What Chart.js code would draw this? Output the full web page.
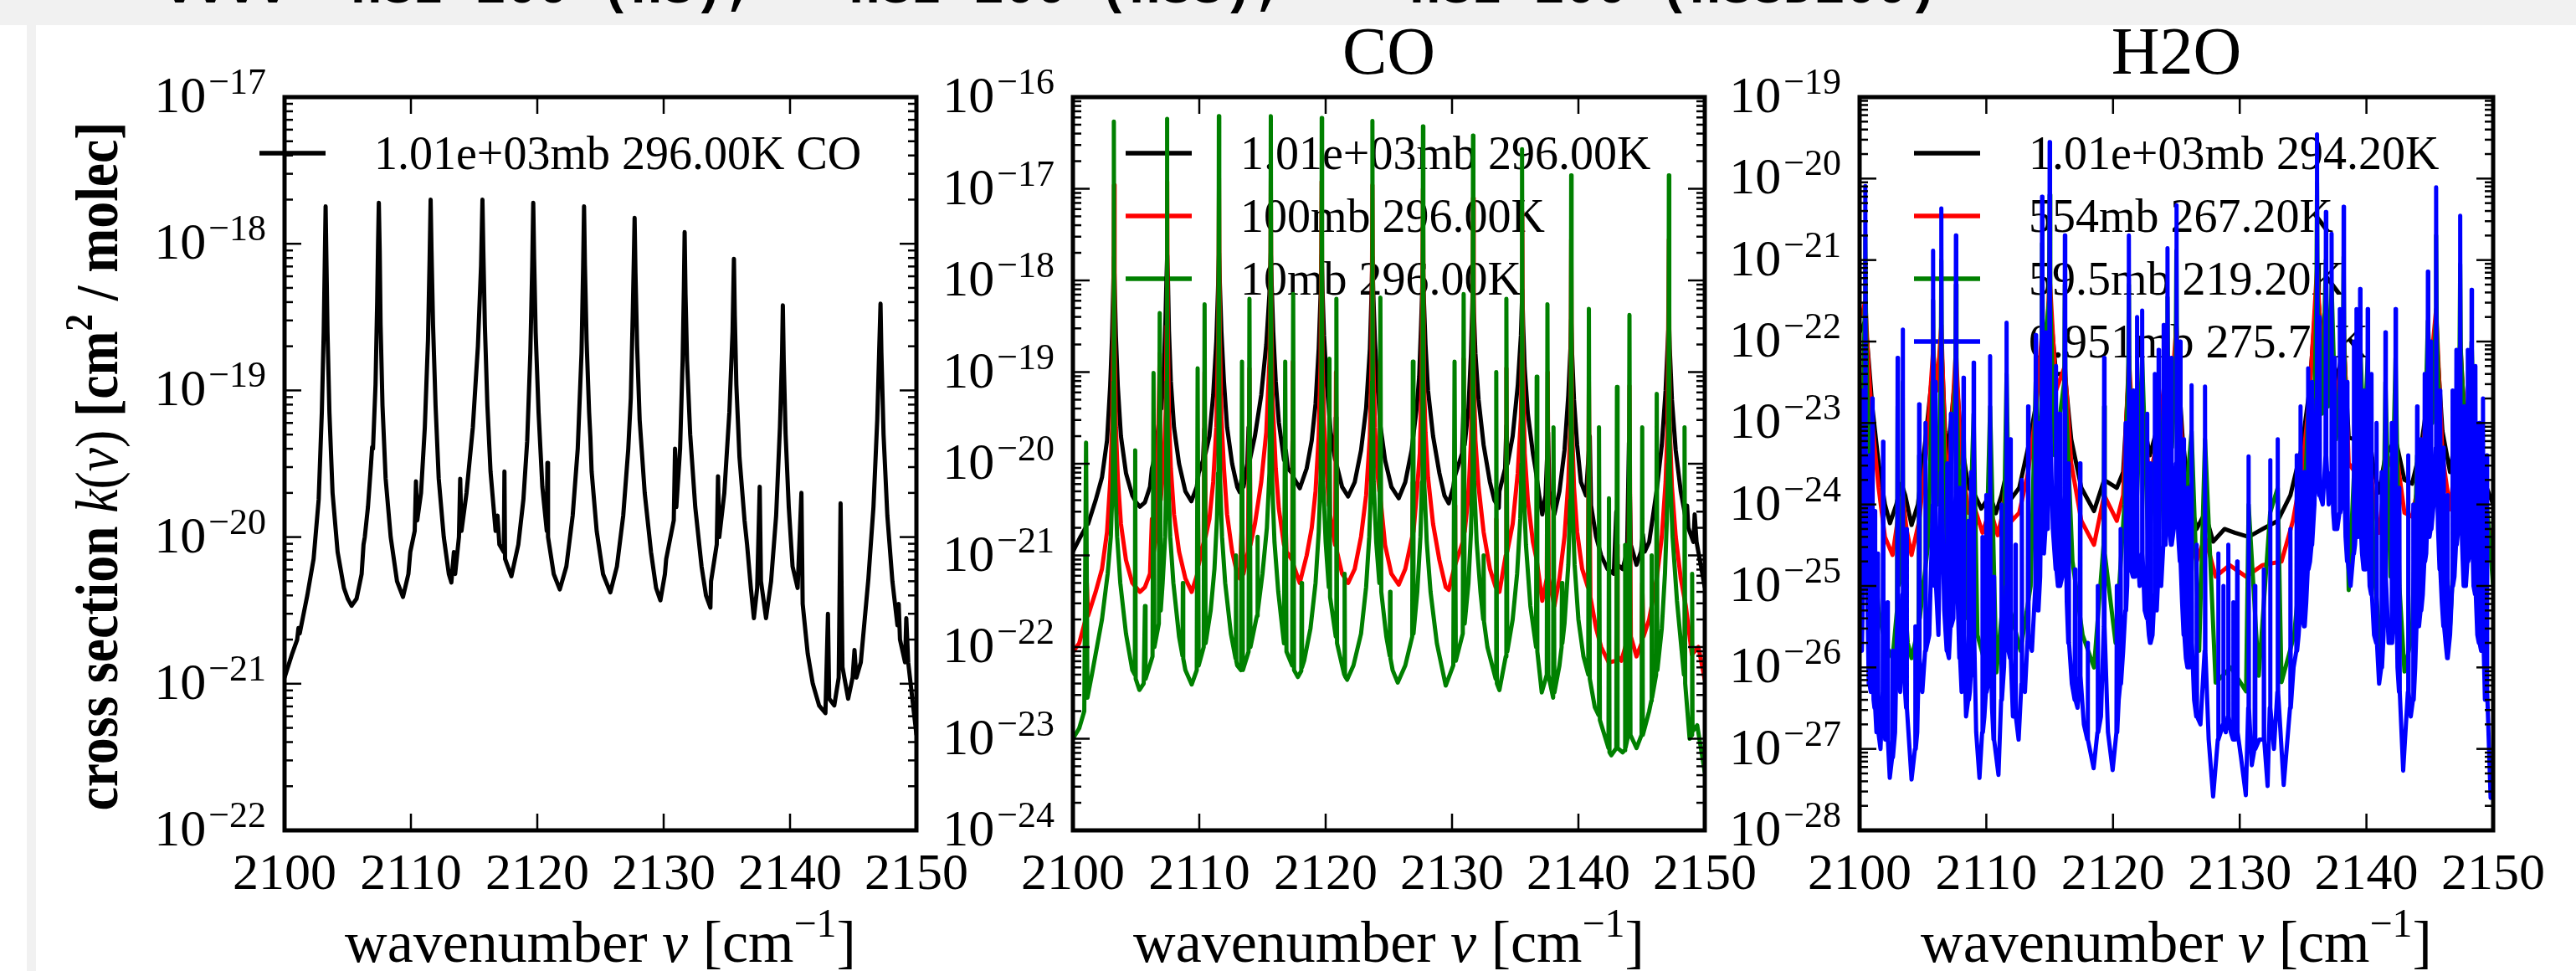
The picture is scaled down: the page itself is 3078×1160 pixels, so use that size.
<!DOCTYPE html>
<html>
<head>
<meta charset="utf-8">
<script src="https://cdn.jsdelivr.net/npm/chart.js@4.4.1/dist/chart.umd.min.js"></script>
<style>
  html, body { margin: 0; padding: 0; background: #fff; }
  body { width: 3078px; height: 1160px; position: relative; overflow: hidden; }
  #topband { position: absolute; left: 0; top: 0; width: 3078px; height: 30px; background: #f1f1f1; overflow: hidden; }
  #topband span { position: absolute; left: 196px; top: -44px; font: bold 62px "Liberation Mono"; line-height: 62px; white-space: pre; color: #000; }
  #leftbar { position: absolute; left: 32px; top: 30px; width: 11px; height: 1130px; background: #f1f1f1; }
  canvas { position: absolute; left: 43px; top: 30px; }
</style>
</head>
<body>
<div id="topband"><span>vvvv  HSI 200 (HS), — HSI 200 (HSS),  — HSI 200 (HSSD200)</span></div>
<div id="leftbar"></div>
<canvas id="p1" width="3035" height="1130"></canvas>
<canvas id="p2" width="3035" height="1130"></canvas>
<canvas id="p3" width="3035" height="1130"></canvas>
<script>
// wavenumber ticks shared by all panels
const xTickValues = [2100, 2110, 2120, 2130, 2140, 2150];
const seriesColors = ["#000000", "#ff0000", "#008000", "#0000ff"];

const coLeftLabels = ["1.01e+03mb 296.00K CO"];
const coLabels = ["1.01e+03mb 296.00K", "100mb 296.00K", "10mb 296.00K"];
const h2oLabels = ["1.01e+03mb 294.20K", "554mb 267.20K", "59.5mb 219.20K", "0.951mb 275.70K"];

// CO, 1013 mb, 296 K  [wavenumber, cross section]
const coAir = [
[2100.0,1.1e-21],[2100.6,1.6e-21],[2101.0,2.0e-21],[2101.1,2.4e-21],[2101.2,2.2e-21],[2101.8,4.0e-21],[2102.3,7.1e-21],[2102.7,1.8e-20],[2102.95,7.1e-20],[2103.1,2.5e-19],[2103.18,7.1e-19],[2103.25,1.8e-18],[2103.32,7.1e-19],[2103.4,2.5e-19],[2103.55,7.1e-20],[2103.8,2.0e-20],[2104.2,7.9e-21],[2104.7,4.5e-21],[2105.0,3.8e-21],[2105.3,3.4e-21],[2105.7,3.8e-21],[2106.1,5.6e-21],[2106.25,8.9e-21],[2106.35,1.0e-20],[2106.6,1.6e-20],[2106.85,3.2e-20],[2106.93,4.1e-20],[2107.0,4.0e-20],[2107.2,1.1e-19],[2107.33,4.0e-19],[2107.4,1.0e-18],[2107.46,1.9e-18],[2107.53,8.9e-19],[2107.6,2.8e-19],[2107.75,7.9e-20],[2108.0,2.5e-20],[2108.4,1.0e-20],[2108.9,5.0e-21],[2109.37,3.9e-21],[2109.8,5.6e-21],[2109.95,7.9e-21],[2110.3,1.1e-20],[2110.4,2.4e-20],[2110.5,1.3e-20],[2110.8,2.0e-20],[2111.1,5.6e-20],[2111.35,2.2e-19],[2111.48,7.9e-19],[2111.56,2.0e-18],[2111.63,8.9e-19],[2111.75,2.8e-19],[2111.95,7.9e-20],[2112.2,2.5e-20],[2112.6,1.0e-20],[2113.0,5.6e-21],[2113.2,4.9e-21],[2113.4,7.9e-21],[2113.5,5.6e-21],[2113.8,1.0e-20],[2113.9,2.5e-20],[2114.0,1.1e-20],[2114.4,2.0e-20],[2114.9,5.6e-20],[2115.3,2.0e-19],[2115.55,7.1e-19],[2115.66,2.0e-18],[2115.73,8.9e-19],[2115.85,2.8e-19],[2116.05,7.9e-20],[2116.3,2.8e-20],[2116.7,1.1e-20],[2116.85,1.4e-20],[2117.0,8.9e-21],[2117.35,7.9e-21],[2117.4,2.8e-20],[2117.45,7.1e-21],[2117.95,5.4e-21],[2118.5,8.9e-21],[2118.9,1.8e-20],[2119.2,4.5e-20],[2119.45,1.8e-19],[2119.6,7.1e-19],[2119.68,1.9e-18],[2119.75,7.9e-19],[2119.87,2.5e-19],[2120.1,7.1e-20],[2120.4,2.2e-20],[2120.75,1.1e-20],[2120.8,3.2e-20],[2120.85,1.0e-20],[2121.3,5.6e-21],[2121.78,4.4e-21],[2122.3,6.3e-21],[2122.8,1.4e-20],[2123.2,4.0e-20],[2123.5,1.8e-19],[2123.63,7.1e-19],[2123.7,1.8e-18],[2123.77,7.1e-19],[2123.9,2.2e-19],[2124.1,7.1e-20],[2124.2,4.8e-20],[2124.3,2.8e-20],[2124.7,1.1e-20],[2125.2,5.6e-21],[2125.78,4.2e-21],[2126.3,6.3e-21],[2126.8,1.4e-20],[2127.2,4.0e-20],[2127.4,8.9e-20],[2127.55,3.2e-19],[2127.64,7.9e-19],[2127.7,1.5e-18],[2127.77,6.3e-19],[2127.9,2.0e-19],[2128.1,6.3e-20],[2128.5,2.0e-20],[2129.0,7.9e-21],[2129.4,4.5e-21],[2129.74,3.7e-21],[2130.1,5.6e-21],[2130.2,7.1e-21],[2130.8,1.3e-20],[2130.9,4.0e-20],[2131.0,1.6e-20],[2131.3,4.0e-20],[2131.5,1.6e-19],[2131.6,5.0e-19],[2131.66,1.2e-18],[2131.73,4.5e-19],[2131.85,1.6e-19],[2132.1,5.0e-20],[2132.5,1.6e-20],[2133.0,6.3e-21],[2133.35,4.0e-21],[2133.7,3.3e-21],[2133.75,5.0e-21],[2134.2,8.9e-21],[2134.3,2.6e-20],[2134.4,1.0e-20],[2134.8,2.0e-20],[2135.2,7.1e-20],[2135.45,2.5e-19],[2135.56,7.9e-19],[2135.63,3.2e-19],[2135.75,1.1e-19],[2136.0,3.5e-20],[2136.4,1.3e-20],[2136.6,8.9e-21],[2136.9,4.5e-21],[2137.14,2.8e-21],[2137.4,4.5e-21],[2137.6,2.2e-20],[2137.7,5.0e-21],[2138.1,2.8e-21],[2138.5,5.0e-21],[2138.9,1.4e-20],[2139.2,5.6e-20],[2139.37,1.8e-19],[2139.43,3.8e-19],[2139.5,1.6e-19],[2139.65,5.0e-20],[2139.9,1.6e-20],[2140.2,6.3e-21],[2140.6,4.5e-21],[2140.9,2.0e-20],[2141.0,3.5e-21],[2141.4,1.6e-21],[2141.8,1.0e-21],[2142.3,7.1e-22],[2142.8,6.3e-22],[2143.0,3.0e-21],[2143.1,7.9e-22],[2143.5,7.1e-22],[2143.85,1.1e-21],[2144.0,1.7e-20],[2144.15,1.3e-21],[2144.6,7.9e-22],[2144.95,1.1e-21],[2145.1,1.7e-21],[2145.25,1.1e-21],[2145.6,1.4e-21],[2146.2,5.2e-21],[2146.6,1.6e-20],[2146.9,6.3e-20],[2147.05,1.8e-19],[2147.16,3.9e-19],[2147.23,1.8e-19],[2147.4,5.0e-20],[2147.7,1.4e-20],[2148.1,5.0e-21],[2148.5,2.5e-21],[2148.6,3.5e-21],[2148.7,2.0e-21],[2149.1,1.4e-21],[2149.2,2.8e-21],[2149.35,1.4e-21],[2150.0,4.5e-22]
];

// CO, 100 mb, 296 K
const co100 = [
[2100.0,8.9e-23],[2100.5,1.1e-22],[2101.0,2.0e-22],[2101.1,5.0e-22],[2101.2,2.2e-22],[2101.8,4.0e-22],[2102.3,7.1e-22],[2102.7,1.8e-21],[2102.95,6.3e-21],[2103.1,2.5e-20],[2103.2,2.5e-19],[2103.25,1.1e-17],[2103.3,2.5e-19],[2103.4,2.5e-20],[2103.55,7.1e-21],[2103.8,2.2e-21],[2104.2,8.9e-22],[2104.7,5.0e-22],[2105.3,4.0e-22],[2105.7,4.5e-22],[2106.1,6.3e-22],[2106.25,2.5e-21],[2106.35,1.0e-21],[2106.6,1.6e-21],[2106.87,1.6e-19],[2106.95,4.0e-21],[2107.2,1.1e-20],[2107.35,4.0e-20],[2107.42,3.2e-19],[2107.46,1.2e-17],[2107.5,3.2e-19],[2107.6,3.2e-20],[2107.75,8.9e-21],[2108.0,2.8e-21],[2108.4,1.1e-21],[2108.9,5.6e-22],[2109.4,4.0e-22],[2109.85,6.3e-22],[2109.9,2.5e-21],[2109.95,7.9e-22],[2110.35,1.4e-21],[2110.42,1.0e-19],[2110.5,1.6e-21],[2110.8,2.5e-21],[2111.1,6.3e-21],[2111.35,2.5e-20],[2111.5,2.5e-19],[2111.56,1.3e-17],[2111.62,2.5e-19],[2111.75,3.2e-20],[2111.95,8.9e-21],[2112.2,2.8e-21],[2112.6,1.1e-21],[2113.0,6.3e-22],[2113.2,5.6e-22],[2113.38,2.5e-21],[2113.5,6.3e-22],[2113.85,1.1e-21],[2113.97,1.1e-19],[2114.05,1.3e-21],[2114.4,2.2e-21],[2114.9,6.3e-21],[2115.3,2.2e-20],[2115.55,1.3e-19],[2115.62,5.0e-19],[2115.66,1.3e-17],[2115.7,4.0e-19],[2115.8,5.0e-20],[2116.05,8.9e-21],[2116.3,3.2e-21],[2116.7,1.3e-21],[2116.8,3.2e-21],[2116.9,1.1e-21],[2117.35,8.9e-22],[2117.4,1.3e-19],[2117.45,7.9e-22],[2117.95,5.0e-22],[2118.5,1.0e-21],[2118.9,2.0e-21],[2119.2,5.0e-21],[2119.45,2.0e-20],[2119.6,1.3e-19],[2119.68,1.2e-17],[2119.75,1.3e-19],[2119.87,2.8e-20],[2120.1,7.9e-21],[2120.25,3.5e-21],[2120.3,1.1e-20],[2120.35,2.8e-21],[2120.75,1.3e-21],[2120.82,1.0e-19],[2120.9,1.1e-21],[2121.3,6.3e-22],[2121.78,5.0e-22],[2122.3,7.1e-22],[2122.8,1.6e-21],[2123.2,4.5e-21],[2123.5,2.0e-20],[2123.63,1.3e-19],[2123.7,1.1e-17],[2123.77,1.3e-19],[2123.9,2.5e-20],[2124.1,7.9e-21],[2124.25,5.0e-21],[2124.3,1.3e-19],[2124.35,4.0e-21],[2124.7,1.3e-21],[2125.2,6.3e-22],[2125.78,4.8e-22],[2126.3,7.1e-22],[2126.85,1.6e-21],[2126.9,6.3e-21],[2126.95,1.8e-21],[2127.2,4.5e-21],[2127.45,1.3e-20],[2127.6,7.9e-20],[2127.7,1.0e-17],[2127.78,7.9e-20],[2127.9,2.2e-20],[2128.1,7.1e-21],[2128.5,2.2e-21],[2129.0,8.9e-22],[2129.5,4.5e-22],[2129.74,4.2e-22],[2130.15,7.1e-22],[2130.2,3.5e-21],[2130.25,7.9e-22],[2130.85,1.4e-21],[2130.92,1.4e-19],[2131.0,1.8e-21],[2131.3,4.5e-21],[2131.5,1.8e-20],[2131.6,1.0e-19],[2131.66,7.9e-18],[2131.72,1.0e-19],[2131.85,1.8e-20],[2132.1,5.6e-21],[2132.5,1.8e-21],[2133.0,7.1e-22],[2133.45,4.5e-22],[2133.5,2.5e-21],[2133.55,4.5e-22],[2133.75,4.0e-22],[2134.25,1.0e-21],[2134.3,1.1e-19],[2134.37,1.1e-21],[2134.8,2.2e-21],[2135.2,7.9e-21],[2135.45,3.2e-20],[2135.52,1.6e-19],[2135.56,5.6e-18],[2135.6,1.6e-19],[2135.75,1.3e-20],[2136.0,4.0e-21],[2136.4,1.4e-21],[2136.7,8.9e-22],[2137.14,3.2e-22],[2137.5,5.6e-22],[2137.57,1.0e-19],[2137.65,5.6e-22],[2138.1,2.8e-22],[2138.5,5.6e-22],[2138.9,1.6e-21],[2139.2,6.3e-21],[2139.37,2.8e-20],[2139.43,2.8e-18],[2139.5,2.5e-20],[2139.65,5.6e-21],[2139.9,1.8e-21],[2140.3,7.1e-22],[2140.75,4.5e-22],[2140.83,7.9e-20],[2140.95,3.5e-22],[2141.4,1.6e-22],[2141.8,1.0e-22],[2142.4,6.8e-23],[2143.0,7.1e-23],[2143.05,1.3e-21],[2143.1,7.9e-23],[2143.4,7.1e-23],[2143.95,1.3e-22],[2144.04,7.1e-20],[2144.15,1.3e-22],[2144.6,7.9e-23],[2145.0,1.1e-22],[2145.05,5.0e-22],[2145.15,1.3e-22],[2145.6,2.0e-22],[2146.2,5.6e-22],[2146.6,1.6e-21],[2146.9,6.3e-21],[2147.05,2.5e-20],[2147.16,2.8e-18],[2147.23,2.5e-20],[2147.4,5.6e-21],[2147.7,1.6e-21],[2148.1,5.6e-22],[2148.5,2.8e-22],[2148.98,8.3e-23],[2149.5,1.0e-22],[2150.0,4.4e-23]
];

// CO, 10 mb, 296 K
const co10 = [
[2100.0,1.0e-23],[2100.5,1.3e-23],[2100.9,2.0e-23],[2101.04,1.7e-20],[2101.15,2.8e-23],[2101.5,5.0e-23],[2101.9,1.0e-22],[2102.3,2.0e-22],[2102.75,6.3e-22],[2103.0,1.6e-21],[2103.15,6.3e-21],[2103.21,7.9e-20],[2103.24,5.4e-17],[2103.27,7.9e-20],[2103.35,6.3e-21],[2103.5,1.6e-21],[2103.75,5.0e-22],[2104.2,1.4e-22],[2104.7,5.6e-23],[2104.9,5.0e-23],[2104.93,1.4e-20],[2104.97,4.5e-23],[2105.26,3.4e-23],[2105.6,4.0e-23],[2105.7,2.8e-22],[2105.75,4.5e-23],[2106.3,7.9e-23],[2106.38,9.8e-20],[2106.45,1.0e-22],[2106.8,1.8e-22],[2106.87,4.4e-19],[2106.95,2.5e-22],[2107.1,5.0e-22],[2107.3,1.6e-21],[2107.37,6.3e-21],[2107.42,7.9e-20],[2107.44,5.8e-17],[2107.47,7.9e-20],[2107.55,6.3e-21],[2107.7,1.6e-21],[2107.95,5.0e-22],[2108.4,1.3e-22],[2108.67,8.0e-23],[2108.7,5.0e-22],[2108.73,7.5e-23],[2108.9,5.6e-23],[2109.4,3.9e-23],[2109.8,5.6e-23],[2109.87,1.1e-19],[2109.95,6.3e-23],[2110.35,1.0e-22],[2110.42,5.5e-19],[2110.5,1.1e-22],[2110.9,2.5e-22],[2111.2,7.1e-22],[2111.4,2.5e-21],[2111.48,7.9e-21],[2111.52,7.9e-20],[2111.55,6.2e-17],[2111.58,7.9e-20],[2111.65,6.3e-21],[2111.8,1.6e-21],[2112.05,5.0e-22],[2112.5,1.4e-22],[2112.87,7.5e-23],[2112.9,1.0e-21],[2112.93,7.0e-23],[2113.0,6.3e-23],[2113.3,5.6e-23],[2113.38,1.3e-19],[2113.45,5.6e-23],[2113.9,8.9e-23],[2113.97,6.3e-19],[2114.05,1.0e-22],[2114.5,2.0e-22],[2114.57,2.2e-22],[2114.6,1.6e-21],[2114.63,2.4e-22],[2115.0,6.3e-22],[2115.35,2.0e-21],[2115.55,7.9e-21],[2115.62,7.9e-20],[2115.66,6.2e-17],[2115.7,7.9e-20],[2115.77,6.3e-21],[2115.95,1.4e-21],[2116.25,4.0e-22],[2116.7,1.1e-22],[2116.8,1.3e-19],[2116.9,8.9e-23],[2117.35,6.3e-23],[2117.43,7.1e-19],[2117.5,5.6e-23],[2117.8,4.7e-23],[2118.07,5.5e-23],[2118.1,5.0e-22],[2118.13,6.0e-23],[2118.3,7.1e-23],[2118.8,1.6e-22],[2119.2,5.0e-22],[2119.45,1.8e-21],[2119.6,7.1e-21],[2119.66,7.9e-20],[2119.69,5.9e-17],[2119.72,7.9e-20],[2119.8,6.3e-21],[2120.0,1.4e-21],[2120.25,4.5e-22],[2120.3,1.4e-19],[2120.35,3.5e-22],[2120.8,1.3e-22],[2120.85,6.3e-19],[2120.9,1.1e-22],[2121.3,6.3e-23],[2121.47,5.0e-23],[2121.5,6.3e-22],[2121.53,4.8e-23],[2121.7,4.4e-23],[2122.2,6.3e-23],[2122.8,1.4e-22],[2123.2,4.5e-22],[2123.45,1.6e-21],[2123.6,6.3e-21],[2123.67,7.9e-20],[2123.7,5.5e-17],[2123.73,7.9e-20],[2123.8,6.3e-21],[2124.0,1.4e-21],[2124.25,5.0e-22],[2124.33,6.5e-19],[2124.4,4.0e-22],[2124.8,1.3e-22],[2125.07,8.0e-23],[2125.1,4.0e-22],[2125.13,7.5e-23],[2125.3,5.6e-23],[2125.7,4.1e-23],[2126.3,6.3e-23],[2126.85,1.3e-22],[2126.9,1.3e-19],[2126.95,1.4e-22],[2127.25,4.0e-22],[2127.5,1.6e-21],[2127.62,6.3e-21],[2127.67,7.9e-20],[2127.7,4.8e-17],[2127.73,7.9e-20],[2127.8,6.3e-21],[2128.0,1.4e-21],[2128.3,4.0e-22],[2128.8,1.1e-22],[2129.5,3.8e-23],[2130.1,6.3e-23],[2130.2,1.3e-19],[2130.3,7.1e-23],[2130.85,1.4e-22],[2130.92,7.1e-19],[2131.0,1.8e-22],[2131.3,5.0e-22],[2131.5,1.8e-21],[2131.6,7.1e-21],[2131.63,7.9e-20],[2131.66,3.8e-17],[2131.69,7.9e-20],[2131.75,6.3e-21],[2131.95,1.4e-21],[2132.25,4.0e-22],[2132.47,2.0e-22],[2132.5,1.0e-21],[2132.53,1.9e-22],[2132.8,1.0e-22],[2133.45,4.5e-23],[2133.5,1.0e-19],[2133.55,4.0e-23],[2133.75,3.4e-23],[2134.25,7.9e-23],[2134.3,6.3e-19],[2134.37,8.9e-23],[2134.8,2.0e-22],[2135.15,6.3e-22],[2135.4,2.5e-21],[2135.5,1.0e-20],[2135.53,6.3e-20],[2135.55,2.7e-17],[2135.58,6.3e-20],[2135.65,6.3e-21],[2135.85,1.3e-21],[2136.2,2.8e-22],[2136.65,1.0e-22],[2136.7,8.9e-20],[2136.75,8.9e-23],[2137.1,3.2e-23],[2137.5,5.0e-23],[2137.55,5.5e-19],[2137.62,5.0e-23],[2138.0,2.8e-23],[2138.03,2.5e-20],[2138.1,3.2e-23],[2138.5,6.3e-23],[2138.67,1.0e-22],[2138.7,5.0e-22],[2138.73,1.1e-22],[2138.9,1.8e-22],[2139.2,7.9e-22],[2139.35,4.0e-21],[2139.4,4.0e-20],[2139.43,1.4e-17],[2139.46,4.0e-20],[2139.52,4.0e-21],[2139.7,7.9e-22],[2140.0,2.0e-22],[2140.4,7.9e-23],[2140.78,5.0e-23],[2140.83,4.9e-19],[2140.9,4.5e-23],[2141.3,2.2e-23],[2141.6,1.8e-23],[2141.63,2.5e-20],[2141.7,1.6e-23],[2142.38,7.9e-24],[2142.42,4.2e-21],[2142.46,7.1e-24],[2142.6,6.6e-24],[2143.0,7.9e-24],[2143.05,6.9e-20],[2143.1,7.9e-24],[2143.5,7.1e-24],[2143.67,7.5e-24],[2143.7,1.3e-21],[2143.73,8.0e-24],[2143.95,1.1e-23],[2144.04,4.2e-19],[2144.12,1.1e-23],[2144.6,7.9e-24],[2145.0,1.1e-23],[2145.05,2.5e-20],[2145.1,1.1e-23],[2145.6,2.0e-23],[2145.77,2.6e-23],[2145.8,1.0e-21],[2145.83,2.8e-23],[2146.15,5.0e-23],[2146.2,5.8e-20],[2146.25,5.6e-23],[2146.6,1.6e-22],[2146.85,6.3e-22],[2147.0,2.5e-21],[2147.1,1.0e-20],[2147.13,4.0e-20],[2147.16,1.4e-17],[2147.19,4.0e-20],[2147.25,7.9e-21],[2147.45,1.6e-21],[2147.8,3.2e-22],[2148.35,5.0e-23],[2148.4,2.5e-20],[2148.45,4.0e-23],[2148.8,1.0e-23],[2148.97,1.1e-23],[2149.0,6.3e-22],[2149.03,1.2e-23],[2149.4,1.4e-23],[2150.0,4.3e-24]
];

// H2O, 1013 mb, 294.2 K
const h2o1013 = [
[2100.0,1.3e-22],[2100.3,1.6e-22],[2100.45,1.8e-22],[2100.7,6.3e-23],[2101.0,1.6e-23],[2101.5,3.2e-24],[2102.0,1.0e-24],[2102.4,5.9e-25],[2102.9,1.0e-24],[2103.3,1.8e-24],[2103.6,1.3e-24],[2104.1,5.6e-25],[2104.6,1.0e-24],[2105.2,6.3e-24],[2105.6,2.5e-23],[2105.8,5.0e-23],[2106.1,3.2e-23],[2106.45,1.0e-22],[2106.75,7.9e-24],[2106.9,3.7e-24],[2107.2,1.0e-23],[2107.6,4.5e-23],[2108.0,6.3e-24],[2108.6,1.6e-24],[2109.0,1.4e-24],[2109.6,8.9e-25],[2110.3,1.3e-24],[2110.75,7.8e-25],[2111.2,1.3e-24],[2111.6,2.5e-24],[2112.0,1.2e-24],[2112.6,1.6e-24],[2113.3,5.0e-24],[2113.9,1.6e-23],[2114.4,1.0e-22],[2114.7,1.0e-22],[2115.0,3.2e-22],[2115.5,4.0e-23],[2116.2,4.0e-23],[2116.7,6.3e-24],[2117.5,1.6e-24],[2118.5,8.3e-25],[2119.3,2.0e-24],[2120.3,1.6e-24],[2120.8,2.5e-24],[2121.25,4.0e-23],[2121.7,6.3e-24],[2122.3,1.3e-23],[2122.9,4.0e-24],[2123.6,1.0e-23],[2124.3,4.0e-23],[2124.6,2.5e-23],[2125.0,1.0e-22],[2125.5,6.3e-24],[2126.0,1.3e-24],[2126.6,5.0e-25],[2127.26,7.9e-25],[2127.9,3.5e-25],[2128.8,5.0e-25],[2129.6,4.5e-25],[2130.7,4.0e-25],[2131.8,5.0e-25],[2133.0,6.3e-25],[2134.0,1.3e-24],[2134.9,5.0e-24],[2135.5,2.5e-23],[2136.1,5.0e-22],[2136.5,1.0e-22],[2136.8,1.3e-22],[2137.0,7.9e-23],[2137.25,7.9e-23],[2137.7,3.2e-23],[2138.2,1.0e-22],[2138.6,6.6e-24],[2139.1,6.3e-24],[2139.5,1.3e-23],[2140.1,1.0e-23],[2140.6,2.5e-24],[2141.0,1.4e-24],[2141.5,4.0e-24],[2142.3,6.3e-24],[2143.0,2.0e-24],[2143.6,1.8e-24],[2144.3,5.0e-24],[2144.85,2.0e-23],[2145.5,1.3e-22],[2146.0,7.9e-24],[2146.6,2.5e-24],[2147.0,6.3e-24],[2147.4,6.3e-23],[2147.9,7.9e-24],[2148.3,1.0e-23],[2148.9,2.5e-24],[2149.5,1.6e-24],[2150.0,1.0e-24]
];

// H2O, 554 mb, 267.2 K
const h2o554 = [
[2100.0,2.0e-22],[2100.3,2.5e-22],[2100.45,3.2e-22],[2100.7,5.0e-23],[2101.0,1.0e-23],[2101.5,1.6e-24],[2102.0,4.0e-25],[2102.6,2.4e-25],[2103.0,6.3e-25],[2103.4,1.3e-24],[2103.7,5.0e-25],[2104.1,2.4e-25],[2104.7,6.3e-25],[2105.3,5.0e-24],[2105.8,7.9e-23],[2106.1,2.5e-23],[2106.45,1.6e-22],[2106.75,5.0e-24],[2106.9,1.4e-24],[2107.2,6.3e-24],[2107.6,7.9e-23],[2108.0,4.0e-24],[2108.6,7.9e-25],[2109.0,1.0e-24],[2109.7,4.5e-25],[2110.3,8.9e-25],[2110.9,4.2e-25],[2111.3,7.9e-25],[2111.6,2.5e-24],[2112.0,6.3e-25],[2112.6,7.9e-25],[2113.3,2.5e-24],[2113.9,1.3e-23],[2114.4,1.3e-22],[2114.7,6.3e-23],[2115.0,6.3e-22],[2115.5,2.5e-23],[2116.2,5.0e-23],[2116.7,3.2e-24],[2117.5,6.3e-25],[2118.5,3.2e-25],[2119.3,1.3e-24],[2120.3,6.3e-25],[2120.8,1.3e-24],[2121.25,6.3e-23],[2121.7,4.0e-24],[2122.3,1.6e-23],[2122.9,2.0e-24],[2123.6,7.9e-24],[2124.3,6.3e-23],[2124.6,2.0e-23],[2125.0,1.6e-22],[2125.5,3.2e-24],[2126.0,5.0e-25],[2126.6,2.0e-25],[2127.26,4.0e-25],[2128.1,1.3e-25],[2129.2,1.8e-25],[2130.5,1.3e-25],[2131.8,1.8e-25],[2133.3,2.0e-25],[2134.2,6.3e-25],[2134.9,2.5e-24],[2135.5,2.0e-23],[2136.1,7.9e-22],[2136.5,6.3e-23],[2136.8,1.6e-22],[2137.0,5.0e-23],[2137.25,1.0e-22],[2137.7,1.6e-23],[2138.2,1.6e-22],[2138.6,3.2e-24],[2139.1,2.5e-24],[2139.5,1.0e-23],[2140.1,7.9e-24],[2140.6,1.0e-24],[2141.0,4.5e-25],[2141.5,2.5e-24],[2142.3,5.0e-24],[2143.0,7.9e-25],[2143.6,7.1e-25],[2144.3,2.5e-24],[2144.85,2.0e-23],[2145.5,2.5e-22],[2146.0,4.0e-24],[2146.6,8.7e-25],[2147.0,3.2e-24],[2147.4,1.0e-22],[2147.9,4.0e-24],[2148.3,7.9e-24],[2148.9,1.0e-24],[2149.5,6.3e-25],[2150.0,3.2e-25]
];

// H2O, 59.5 mb, 219.2 K
const h2o59 = [
[2100.0,1.0e-24],[2100.3,2.5e-23],[2100.4,2.5e-22],[2100.45,2.0e-21],[2100.5,2.5e-22],[2100.6,2.5e-23],[2101.0,5.0e-25],[2101.5,5.0e-26],[2102.0,2.0e-26],[2102.6,1.3e-26],[2102.95,5.0e-26],[2103.0,1.6e-23],[2103.05,1.0e-25],[2103.35,1.3e-25],[2103.4,3.2e-23],[2103.45,1.3e-25],[2103.8,2.0e-26],[2104.1,1.3e-26],[2104.65,3.2e-26],[2104.7,4.0e-24],[2104.75,4.0e-26],[2105.4,3.2e-25],[2105.75,3.2e-23],[2105.8,3.2e-22],[2105.85,3.2e-23],[2106.15,1.0e-24],[2106.4,3.2e-23],[2106.45,1.0e-21],[2106.5,3.2e-23],[2106.9,2.5e-25],[2107.55,3.2e-23],[2107.6,5.0e-22],[2107.65,2.5e-23],[2108.0,1.6e-25],[2108.2,1.0e-23],[2108.5,4.0e-26],[2109.0,1.3e-23],[2109.3,2.5e-26],[2109.8,1.3e-26],[2110.3,1.6e-23],[2110.8,8.7e-27],[2111.3,6.3e-26],[2111.6,4.0e-23],[2111.9,5.0e-26],[2112.7,1.6e-26],[2113.5,1.0e-25],[2113.9,3.2e-23],[2114.2,1.0e-24],[2114.35,2.5e-23],[2114.4,1.6e-21],[2114.5,5.0e-23],[2114.95,3.2e-22],[2115.0,6.3e-21],[2115.05,3.2e-22],[2115.4,4.0e-24],[2116.15,3.2e-23],[2116.2,5.0e-22],[2116.25,2.5e-23],[2116.8,2.0e-25],[2117.6,2.5e-26],[2118.5,1.0e-26],[2119.25,3.2e-25],[2119.3,1.6e-23],[2119.35,2.5e-25],[2120.2,2.0e-26],[2120.9,1.0e-24],[2121.2,4.0e-23],[2121.25,5.0e-22],[2121.3,3.2e-23],[2121.8,5.0e-25],[2122.3,6.3e-23],[2122.8,2.5e-25],[2123.6,2.0e-23],[2124.0,5.0e-25],[2124.25,3.2e-23],[2124.3,3.5e-22],[2124.35,4.0e-23],[2124.65,5.0e-24],[2124.95,6.3e-23],[2125.0,1.3e-21],[2125.05,5.0e-23],[2125.5,4.0e-25],[2126.2,7.9e-24],[2126.8,1.6e-26],[2127.26,6.3e-24],[2128.1,6.5e-27],[2129.3,1.0e-26],[2130.5,5.1e-27],[2130.7,1.0e-24],[2131.5,7.9e-27],[2132.4,7.9e-25],[2133.0,1.6e-24],[2133.3,6.6e-27],[2134.3,2.5e-26],[2135.0,4.0e-25],[2135.4,1.3e-23],[2135.8,3.2e-24],[2136.05,3.2e-22],[2136.1,8.9e-21],[2136.15,3.2e-22],[2136.5,1.3e-23],[2136.8,1.0e-21],[2137.0,1.6e-23],[2137.25,5.0e-22],[2137.6,6.3e-24],[2138.15,1.3e-22],[2138.2,1.1e-21],[2138.25,1.0e-22],[2138.6,8.9e-26],[2139.5,1.1e-22],[2139.8,5.0e-24],[2140.1,6.3e-23],[2140.6,1.6e-25],[2141.2,1.3e-26],[2141.5,3.2e-23],[2141.9,1.3e-25],[2142.3,6.3e-23],[2142.6,1.0e-25],[2143.0,8.9e-27],[2143.6,2.5e-26],[2144.0,4.0e-24],[2144.4,4.0e-25],[2144.85,1.8e-22],[2145.2,1.0e-23],[2145.45,1.6e-22],[2145.5,2.0e-21],[2145.55,1.6e-22],[2146.0,6.3e-25],[2146.6,3.2e-26],[2147.1,1.0e-24],[2147.35,7.9e-23],[2147.4,8.9e-22],[2147.45,7.9e-23],[2147.9,2.5e-24],[2148.3,1.0e-22],[2148.8,2.5e-25],[2149.5,1.0e-24],[2150.0,1.0e-25]
];

// H2O, 0.951 mb, 275.7 K
const h2o095 = [
[2100.0,1.0e-25],[2100.12,1.6e-26],[2100.15,2.5e-23],[2100.18,1.6e-26],[2100.3,1.6e-25],[2100.42,5.0e-24],[2100.45,8.1e-21],[2100.48,5.0e-24],[2100.6,1.0e-25],[2100.72,6.3e-27],[2100.75,4.0e-24],[2100.78,6.3e-27],[2100.88,5.0e-27],[2100.97,2.0e-26],[2101.0,2.0e-23],[2101.03,2.0e-26],[2101.1,4.0e-27],[2101.17,3.2e-27],[2101.2,8.3e-25],[2101.23,3.2e-27],[2101.33,1.6e-27],[2101.42,1.6e-27],[2101.45,2.5e-25],[2101.48,1.6e-27],[2101.65,1.0e-27],[2101.82,5.0e-27],[2101.85,5.9e-24],[2101.88,5.0e-27],[2102.02,1.3e-27],[2102.17,1.3e-27],[2102.2,6.3e-26],[2102.23,1.3e-27],[2102.38,4.4e-28],[2102.57,7.9e-28],[2102.6,1.6e-26],[2102.63,7.9e-28],[2102.8,1.6e-27],[2102.97,4.0e-26],[2103.0,6.3e-23],[2103.03,4.0e-26],[2103.2,5.0e-27],[2103.37,7.9e-26],[2103.4,1.4e-22],[2103.43,7.9e-26],[2103.55,6.3e-27],[2103.67,3.2e-27],[2103.7,5.0e-25],[2103.73,3.2e-27],[2104.1,4.2e-28],[2104.37,1.0e-27],[2104.4,3.2e-26],[2104.43,1.0e-27],[2104.55,1.6e-27],[2104.67,1.3e-26],[2104.7,1.7e-23],[2104.73,1.3e-26],[2104.95,5.0e-27],[2105.17,1.6e-26],[2105.2,1.0e-23],[2105.23,1.6e-26],[2105.5,2.5e-26],[2105.77,1.0e-24],[2105.8,1.3e-21],[2105.83,1.0e-24],[2105.9,1.0e-25],[2105.97,1.0e-25],[2106.0,3.2e-23],[2106.03,1.0e-25],[2106.22,2.5e-26],[2106.42,2.5e-24],[2106.45,4.3e-21],[2106.48,2.5e-24],[2106.68,5.0e-26],[2106.87,1.6e-26],[2106.9,3.2e-24],[2106.93,1.6e-26],[2107.05,1.3e-26],[2107.17,3.2e-26],[2107.2,1.3e-23],[2107.23,3.2e-26],[2107.4,4.0e-26],[2107.57,1.3e-24],[2107.6,2.0e-21],[2107.63,1.3e-24],[2107.75,6.3e-26],[2107.87,1.3e-26],[2107.9,1.6e-24],[2107.93,1.3e-26],[2108.05,5.0e-27],[2108.17,2.5e-26],[2108.2,3.6e-23],[2108.23,2.5e-26],[2108.4,2.5e-27],[2108.57,4.0e-27],[2108.6,6.3e-25],[2108.63,4.0e-27],[2108.7,5.0e-27],[2108.77,7.9e-27],[2108.8,2.5e-24],[2108.83,7.9e-27],[2108.9,1.0e-26],[2108.97,3.2e-26],[2109.0,5.5e-23],[2109.03,3.2e-26],[2109.2,1.6e-27],[2109.46,4.4e-28],[2109.67,1.6e-27],[2109.7,4.0e-25],[2109.73,1.6e-27],[2109.85,2.5e-27],[2109.97,5.0e-27],[2110.0,1.3e-24],[2110.03,5.0e-27],[2110.15,6.3e-27],[2110.27,4.0e-26],[2110.3,6.6e-23],[2110.33,4.0e-26],[2110.45,3.2e-27],[2110.57,1.3e-27],[2110.6,1.3e-25],[2110.63,1.3e-27],[2110.96,4.8e-28],[2111.17,4.0e-27],[2111.2,1.0e-24],[2111.23,4.0e-27],[2111.4,1.0e-26],[2111.57,1.0e-25],[2111.6,1.7e-22],[2111.63,1.0e-25],[2111.75,1.6e-26],[2111.87,1.3e-26],[2111.9,6.3e-24],[2111.93,1.3e-26],[2112.1,2.5e-27],[2112.27,2.5e-27],[2112.3,3.2e-25],[2112.33,2.5e-27],[2112.55,1.3e-27],[2112.77,6.3e-27],[2112.8,2.0e-24],[2112.83,6.3e-27],[2113.05,5.0e-27],[2113.27,2.5e-26],[2113.3,1.6e-23],[2113.33,2.5e-26],[2113.6,1.6e-26],[2113.87,1.0e-25],[2113.9,1.2e-22],[2113.93,1.0e-25],[2114.0,6.3e-26],[2114.07,5.0e-26],[2114.1,1.0e-23],[2114.13,5.0e-26],[2114.25,1.3e-25],[2114.37,3.2e-24],[2114.4,6.0e-21],[2114.43,3.2e-24],[2114.55,2.5e-25],[2114.67,5.0e-25],[2114.7,1.3e-22],[2114.73,5.0e-25],[2114.85,5.0e-25],[2114.97,1.3e-23],[2115.0,2.8e-20],[2115.03,1.3e-23],[2115.25,5.0e-25],[2115.47,1.6e-25],[2115.5,5.0e-23],[2115.53,1.6e-25],[2115.65,1.0e-25],[2115.77,1.0e-25],[2115.8,1.3e-23],[2115.83,1.0e-25],[2116.0,1.3e-25],[2116.17,1.3e-24],[2116.2,2.0e-21],[2116.23,1.3e-24],[2116.35,6.3e-26],[2116.47,2.0e-26],[2116.5,3.2e-24],[2116.53,2.0e-26],[2116.75,6.3e-27],[2116.97,4.0e-27],[2117.0,1.6e-25],[2117.03,4.0e-27],[2117.2,3.2e-27],[2117.37,7.9e-27],[2117.4,3.2e-24],[2117.43,7.9e-27],[2117.7,2.0e-27],[2117.97,1.3e-27],[2118.0,2.0e-26],[2118.03,1.3e-27],[2118.47,5.8e-28],[2118.77,1.6e-27],[2118.8,1.0e-25],[2118.83,1.6e-27],[2119.05,2.5e-27],[2119.27,3.2e-26],[2119.3,6.3e-23],[2119.33,3.2e-26],[2119.6,1.6e-27],[2119.97,5.5e-28],[2120.27,1.6e-27],[2120.3,1.0e-25],[2120.33,1.6e-27],[2120.45,4.0e-27],[2120.57,6.3e-27],[2120.6,5.0e-25],[2120.63,6.3e-27],[2120.8,1.6e-26],[2120.97,5.0e-26],[2121.0,1.0e-23],[2121.03,5.0e-26],[2121.12,1.0e-25],[2121.22,1.3e-24],[2121.25,2.0e-21],[2121.28,1.3e-24],[2121.42,1.6e-25],[2121.57,1.3e-25],[2121.6,2.5e-23],[2121.63,1.3e-25],[2121.75,1.3e-25],[2121.87,2.5e-25],[2121.9,2.0e-22],[2121.93,2.5e-25],[2122.1,1.0e-25],[2122.27,2.5e-25],[2122.3,2.4e-22],[2122.33,2.5e-25],[2122.5,5.0e-26],[2122.67,4.0e-26],[2122.7,1.3e-23],[2122.73,4.0e-26],[2122.83,2.5e-26],[2122.92,2.0e-26],[2122.95,3.2e-24],[2122.98,2.0e-26],[2123.12,2.5e-26],[2123.27,7.9e-26],[2123.3,4.0e-23],[2123.33,7.9e-26],[2123.45,5.0e-26],[2123.57,1.3e-25],[2123.6,7.9e-23],[2123.63,1.3e-25],[2123.8,1.0e-25],[2123.97,3.2e-25],[2124.0,1.6e-22],[2124.03,3.2e-25],[2124.15,3.2e-25],[2124.27,1.3e-24],[2124.3,1.4e-21],[2124.33,1.3e-24],[2124.45,5.0e-25],[2124.57,3.2e-25],[2124.6,6.3e-23],[2124.63,3.2e-25],[2124.8,5.0e-25],[2124.97,3.2e-24],[2125.0,4.7e-21],[2125.03,3.2e-24],[2125.15,4.0e-25],[2125.27,2.0e-25],[2125.3,1.0e-22],[2125.33,2.0e-25],[2125.45,6.3e-26],[2125.57,2.5e-26],[2125.6,6.3e-24],[2125.63,2.5e-26],[2125.75,1.3e-26],[2125.87,1.0e-26],[2125.9,1.6e-24],[2125.93,1.0e-26],[2126.05,1.0e-26],[2126.17,2.0e-26],[2126.2,2.9e-23],[2126.23,2.0e-26],[2126.4,4.0e-27],[2126.57,2.5e-27],[2126.6,3.2e-25],[2126.63,2.5e-27],[2126.9,2.0e-27],[2127.23,1.6e-26],[2127.26,2.8e-23],[2127.29,1.6e-26],[2127.55,1.3e-27],[2127.9,2.6e-28],[2128.27,1.3e-27],[2128.3,2.5e-25],[2128.33,1.3e-27],[2128.5,1.6e-27],[2128.67,2.0e-27],[2128.7,1.0e-25],[2128.73,2.0e-27],[2128.9,1.6e-27],[2129.07,2.5e-27],[2129.1,3.2e-25],[2129.13,2.5e-27],[2129.3,1.6e-27],[2129.47,1.3e-27],[2129.5,6.3e-26],[2129.53,1.3e-27],[2129.65,1.3e-27],[2129.77,1.6e-27],[2129.8,2.0e-25],[2129.83,1.6e-27],[2130.1,7.9e-28],[2130.48,2.7e-28],[2130.67,3.2e-27],[2130.7,3.9e-24],[2130.73,3.2e-27],[2130.95,6.3e-28],[2131.17,1.0e-27],[2131.2,1.0e-25],[2131.23,1.0e-27],[2131.55,1.3e-27],[2131.87,1.3e-27],[2131.9,1.6e-25],[2131.93,1.3e-27],[2132.2,3.5e-28],[2132.37,3.2e-27],[2132.4,3.5e-24],[2132.43,3.2e-27],[2132.7,1.0e-27],[2132.97,5.0e-27],[2133.0,6.3e-24],[2133.03,5.0e-27],[2133.47,3.6e-28],[2133.97,3.2e-27],[2134.0,5.0e-25],[2134.03,3.2e-27],[2134.25,1.0e-26],[2134.47,1.6e-26],[2134.5,4.0e-24],[2134.53,1.6e-26],[2134.65,2.5e-26],[2134.77,5.0e-26],[2134.8,1.6e-23],[2134.83,5.0e-26],[2134.95,4.0e-26],[2135.07,3.2e-26],[2135.1,2.5e-24],[2135.13,3.2e-26],[2135.25,6.3e-26],[2135.37,1.6e-25],[2135.4,4.7e-23],[2135.43,1.6e-25],[2135.55,2.0e-25],[2135.67,3.2e-25],[2135.7,3.2e-23],[2135.73,3.2e-25],[2135.9,1.0e-24],[2136.07,2.0e-23],[2136.1,3.5e-20],[2136.13,2.0e-23],[2136.2,1.6e-24],[2136.27,1.3e-24],[2136.3,2.0e-22],[2136.33,1.3e-24],[2136.55,1.0e-24],[2136.77,4.0e-24],[2136.8,3.9e-21],[2136.83,4.0e-24],[2137.02,1.0e-24],[2137.22,2.5e-24],[2137.25,2.1e-21],[2137.28,2.5e-24],[2137.38,7.9e-25],[2137.47,5.0e-25],[2137.5,6.3e-23],[2137.53,5.0e-25],[2137.7,5.0e-25],[2137.87,7.9e-25],[2137.9,2.5e-22],[2137.93,7.9e-25],[2138.05,1.0e-24],[2138.17,3.2e-24],[2138.2,4.5e-21],[2138.23,3.2e-24],[2138.35,4.0e-25],[2138.47,2.0e-25],[2138.5,3.2e-23],[2138.53,2.0e-25],[2138.75,1.0e-25],[2138.97,2.5e-25],[2139.0,1.0e-22],[2139.03,2.5e-25],[2139.1,3.2e-25],[2139.17,5.0e-25],[2139.2,2.5e-22],[2139.23,5.0e-25],[2139.35,4.0e-25],[2139.47,6.3e-25],[2139.5,4.4e-22],[2139.53,6.3e-25],[2139.65,2.5e-25],[2139.77,1.6e-25],[2139.8,2.5e-23],[2139.83,1.6e-25],[2139.95,1.6e-25],[2140.07,4.0e-25],[2140.1,2.5e-22],[2140.13,4.0e-25],[2140.25,1.0e-25],[2140.37,7.9e-26],[2140.4,4.0e-23],[2140.43,7.9e-26],[2140.6,2.5e-26],[2140.77,2.0e-26],[2140.8,1.0e-23],[2140.83,2.0e-26],[2141.0,6.3e-27],[2141.17,1.0e-26],[2141.2,2.5e-24],[2141.23,1.0e-26],[2141.35,2.5e-26],[2141.47,1.3e-25],[2141.5,1.3e-22],[2141.53,1.3e-25],[2141.75,2.0e-26],[2141.97,2.0e-26],[2142.0,1.0e-23],[2142.03,2.0e-26],[2142.15,4.0e-26],[2142.27,1.6e-25],[2142.3,2.5e-22],[2142.33,1.6e-25],[2142.45,1.0e-26],[2142.57,5.0e-27],[2142.6,1.6e-24],[2142.63,5.0e-27],[2142.9,5.4e-28],[2143.27,5.0e-27],[2143.3,4.0e-24],[2143.33,5.0e-27],[2143.5,2.5e-27],[2143.67,4.0e-27],[2143.7,1.0e-24],[2143.73,4.0e-27],[2143.85,1.0e-26],[2143.97,4.0e-26],[2144.0,1.6e-23],[2144.03,4.0e-26],[2144.15,3.2e-26],[2144.27,5.0e-26],[2144.3,6.3e-24],[2144.33,5.0e-26],[2144.45,7.9e-26],[2144.57,2.0e-25],[2144.6,4.0e-23],[2144.63,2.0e-25],[2144.72,2.5e-25],[2144.82,7.9e-25],[2144.85,7.2e-22],[2144.88,7.9e-25],[2144.98,4.0e-25],[2145.07,5.0e-25],[2145.1,1.0e-22],[2145.13,5.0e-25],[2145.3,1.0e-24],[2145.47,5.0e-24],[2145.5,7.8e-21],[2145.53,5.0e-24],[2145.65,5.0e-25],[2145.77,1.6e-25],[2145.8,2.5e-23],[2145.83,1.6e-25],[2145.95,6.3e-26],[2146.07,3.2e-26],[2146.1,5.0e-24],[2146.13,3.2e-26],[2146.25,2.0e-26],[2146.37,1.3e-26],[2146.4,1.3e-24],[2146.43,1.3e-26],[2146.6,2.5e-26],[2146.77,1.0e-25],[2146.8,2.5e-23],[2146.83,1.0e-25],[2146.95,1.3e-25],[2147.07,3.2e-25],[2147.1,7.9e-23],[2147.13,3.2e-25],[2147.25,5.0e-25],[2147.37,3.2e-24],[2147.4,3.5e-21],[2147.43,3.2e-24],[2147.55,3.2e-25],[2147.67,1.0e-25],[2147.7,1.6e-23],[2147.73,1.0e-25],[2147.85,1.0e-25],[2147.97,2.0e-25],[2148.0,7.9e-23],[2148.03,2.0e-25],[2148.15,2.5e-25],[2148.27,6.3e-25],[2148.3,4.3e-22],[2148.33,6.3e-25],[2148.45,1.0e-25],[2148.57,7.9e-26],[2148.6,5.0e-23],[2148.63,7.9e-26],[2148.75,2.5e-26],[2148.87,2.0e-26],[2148.9,1.0e-23],[2148.93,2.0e-26],[2149.05,1.6e-26],[2149.17,2.5e-26],[2149.2,2.0e-23],[2149.23,2.5e-26],[2149.35,4.0e-27],[2149.47,5.0e-27],[2149.5,4.0e-24],[2149.53,5.0e-27],[2149.8,2.5e-28],[2150.0,4.0e-28]
];

const CW = 3035, CH = 1130, TOP = 86, BOTTOM = 962;

const panels = [
  { id: "p1", left: 297, right: 1052, yMin: 1e-22, yMax: 1e-17, title: "", series: [coAir], labels: coLeftLabels, legendX: -30, ylabel: true },
  { id: "p2", left: 1239, right: 1994, yMin: 1e-24, yMax: 1e-16, title: "CO", series: [coAir, co100, co10], labels: coLabels, legendX: 63 },
  { id: "p3", left: 2179, right: 2936, yMin: 1e-28, yMax: 1e-19, title: "H2O", series: [h2o1013, h2o554, h2o59, h2o095], labels: h2oLabels, legendX: 65 },
];

const SERIF = '"Liberation Serif", "Times New Roman", serif';

// draw a row of text pieces with different fonts; returns total width
function textRun(ctx, parts, x, y, align) {
  let w = 0;
  parts.forEach(p => { ctx.font = p.f; p.w = ctx.measureText(p.t).width; w += p.w; });
  let cx = align === "center" ? x - w / 2 : align === "right" ? x - w : x;
  parts.forEach(p => { ctx.font = p.f; ctx.fillText(p.t, cx, y + (p.dy || 0)); cx += p.w; });
  return w;
}

function seg(ctx, x1, y1, x2, y2) {
  ctx.beginPath(); ctx.moveTo(x1, y1); ctx.lineTo(x2, y2); ctx.stroke();
}

function makeDecor(p) {
  return {
    id: "decor_" + p.id,
    // legend sits under the curves, like the original
    beforeDatasetsDraw(chart) {
      const { ctx, chartArea: a } = chart;
      ctx.save();
      ctx.textBaseline = "alphabetic";
      p.labels.forEach((lab, i) => {
        const y = a.top + 67 + i * 75;
        const x0 = a.left + p.legendX;
        ctx.strokeStyle = seriesColors[i];
        ctx.lineWidth = 5.5;
        seg(ctx, x0, y, x0 + 79, y);
        ctx.fillStyle = "#000";
        ctx.font = "56px " + SERIF;
        ctx.fillText(lab, x0 + 137, y + 19);
      });
      ctx.restore();
    },
    afterDraw(chart) {
      const { ctx, chartArea: a, scales } = chart;
      const xs = scales.x, ys = scales.y;
      ctx.save();
      ctx.strokeStyle = "#000";
      ctx.fillStyle = "#000";
      ctx.lineCap = "butt";

      // x ticks (inside, top and bottom)
      ctx.lineWidth = 2.5;
      xTickValues.forEach(v => {
        if (v <= xs.min || v >= xs.max) return;
        const px = xs.getPixelForValue(v);
        seg(ctx, px, a.bottom, px, a.bottom - 20);
        seg(ctx, px, a.top, px, a.top + 20);
      });

      // y ticks, decades and 2..9 minors
      const e0 = Math.round(Math.log10(ys.min));
      const e1 = Math.round(Math.log10(ys.max));
      for (let e = e0; e <= e1; e++) {
        for (let m = 1; m <= 9; m++) {
          const v = m * Math.pow(10, e);
          if (v > ys.max * 1.0001) break;
          const py = ys.getPixelForValue(v);
          const len = m === 1 ? 20 : 10;
          seg(ctx, a.left, py, a.left + len, py);
          seg(ctx, a.right, py, a.right - len, py);
        }
      }

      // frame
      ctx.lineWidth = 5;
      ctx.strokeRect(a.left, a.top, a.right - a.left, a.bottom - a.top);

      // y tick labels 10^e
      ctx.textBaseline = "alphabetic";
      for (let e = e0; e <= e1; e++) {
        const py = ys.getPixelForValue(Math.pow(10, e));
        const expTxt = (e < 0 ? "\u2212" : "") + Math.abs(e);
        ctx.font = "44px " + SERIF;
        const we = ctx.measureText(expTxt).width;
        ctx.font = "62px " + SERIF;
        const wb = ctx.measureText("10").width;
        const xr = a.left - 22;
        ctx.fillText("10", xr - we - wb - 3, py + 18);
        ctx.font = "44px " + SERIF;
        ctx.fillText(expTxt, xr - we, py - 4);
      }

      // x tick labels
      ctx.textAlign = "center";
      ctx.font = "62px " + SERIF;
      xTickValues.forEach(v => {
        ctx.fillText(String(v), xs.getPixelForValue(v), a.bottom + 70);
      });
      ctx.textAlign = "left";

      // x axis label
      const cx = (a.left + a.right) / 2;
      textRun(ctx, [
        { t: "wavenumber ", f: "70px " + SERIF },
        { t: "\u03bd", f: "italic 70px " + SERIF },
        { t: " [cm", f: "70px " + SERIF },
        { t: "\u22121", f: "48px " + SERIF, dy: -30 },
        { t: "]", f: "70px " + SERIF },
      ], cx, a.bottom + 157, "center");

      // title
      if (p.title) {
        ctx.textAlign = "center";
        ctx.font = "80px " + SERIF;
        ctx.fillText(p.title, cx, a.top - 28);
        ctx.textAlign = "left";
      }

      // y axis label, rotated
      if (p.ylabel) {
        const parts = [
          { t: "cross section ", f: "bold 72px " + SERIF },
          { t: "k", f: "italic 72px " + SERIF },
          { t: "(", f: "72px " + SERIF },
          { t: "\u03bd", f: "italic 72px " + SERIF },
          { t: ") ", f: "72px " + SERIF },
          { t: "[cm", f: "bold 72px " + SERIF },
          { t: "2", f: "bold 46px " + SERIF, dy: -30 },
          { t: " / molec", f: "bold 72px " + SERIF },
          { t: "]", f: "bold 72px " + SERIF },
        ];
        let w = 0;
        parts.forEach(q => { ctx.font = q.f; w += ctx.measureText(q.t).width; });
        ctx.translate(97, 527);
        ctx.rotate(-Math.PI / 2);
        ctx.scale(823 / w, 1);
        textRun(ctx, parts, 0, 0, "center");
      }
      ctx.restore();
    },
  };
}

panels.forEach(p => {
  const n = p.series.length;
  const datasets = p.series.map((s, i) => ({
    label: p.labels[i],
    data: s.map(([x, y]) => ({ x, y })),
    borderColor: seriesColors[i],
    borderWidth: 5,
    pointRadius: 0,
    tension: 0,
    fill: false,
    borderJoinStyle: "round",
    borderCapStyle: "round",
    order: n - i,
  }));

  new Chart(document.getElementById(p.id), {
    type: "line",
    data: { datasets },
    options: {
      responsive: false,
      animation: false,
      devicePixelRatio: 1,
      events: [],
      layout: { padding: { left: p.left, right: CW - p.right, top: TOP, bottom: CH - BOTTOM } },
      scales: {
        x: { type: "linear", min: 2100, max: 2150, display: false },
        y: { type: "logarithmic", min: p.yMin, max: p.yMax, display: false },
      },
      plugins: { legend: { display: false }, tooltip: { enabled: false } },
    },
    plugins: [makeDecor(p)],
  });
});
</script>
</body>
</html>
